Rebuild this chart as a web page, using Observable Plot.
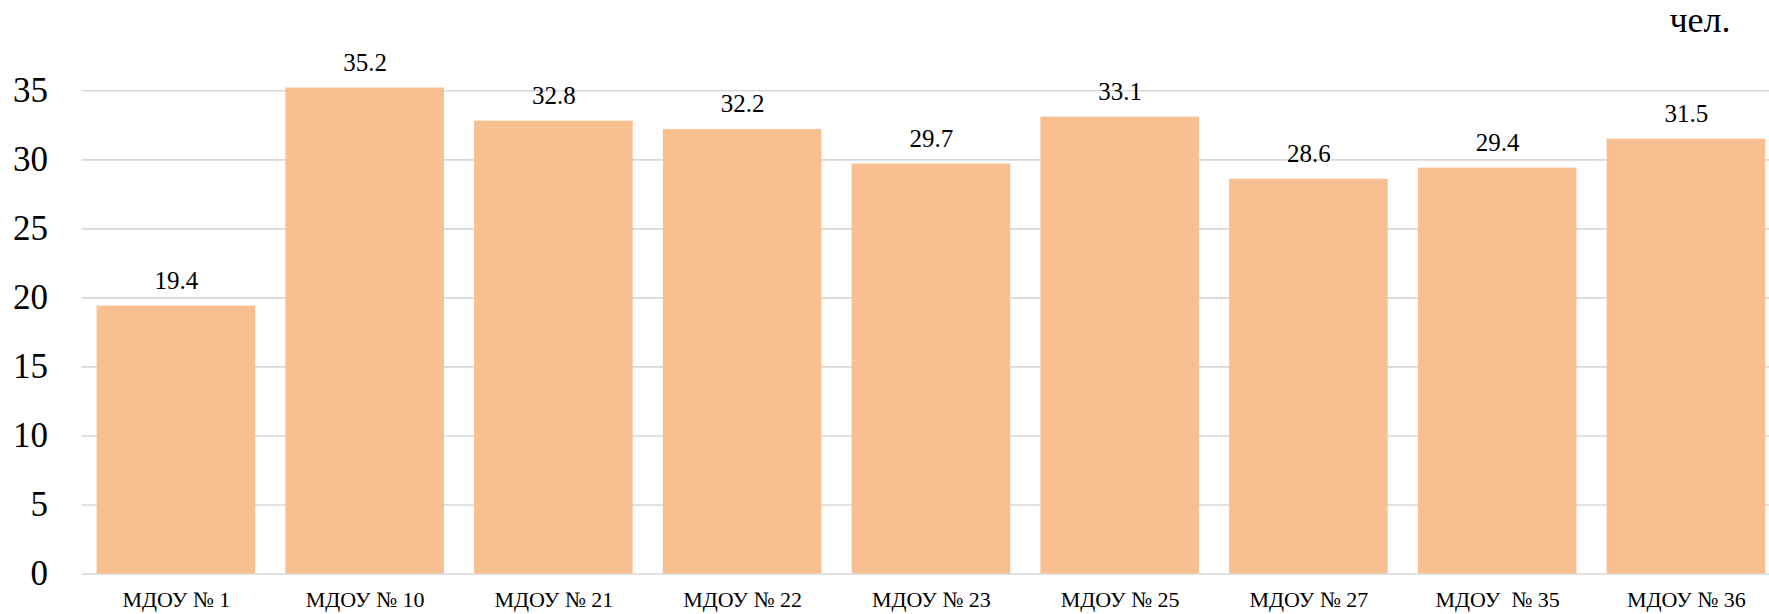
<!DOCTYPE html>
<html>
<head>
<meta charset="utf-8">
<script src="https://cdn.jsdelivr.net/npm/d3@7"></script>
<script src="https://cdn.jsdelivr.net/npm/@observablehq/plot@0.6"></script>
<style>
  html, body { margin: 0; padding: 0; background: #ffffff; }
</style>
</head>
<body>
<div id="chart"></div>
<script>
const categories = ["МДОУ № 1", "МДОУ № 10", "МДОУ № 21", "МДОУ № 22", "МДОУ № 23", "МДОУ № 25", "МДОУ № 27", "МДОУ  № 35", "МДОУ № 36"];
const values = [19.4, 35.2, 32.8, 32.2, 29.7, 33.1, 28.6, 29.4, 31.5];
const yTicks = [0, 5, 10, 15, 20, 25, 30, 35];
const unitLabel = ["чел."];

const data = categories.map((c, i) => ({category: c, value: values[i]}));
const serif = "Liberation Serif";

const chart = Plot.plot({
  width: 1769,
  height: 614,
  marginLeft: 81.5,
  marginRight: 0,
  marginTop: 90.3,
  marginBottom: 40.5,
  style: {
    fontFamily: serif,
    background: "#ffffff",
    color: "#000000",
    overflow: "visible"
  },
  x: {
    domain: categories,
    range: [81.5, 1780.3],
    paddingInner: 0.16,
    paddingOuter: 0.08,
    align: 0.5,
    round: false,
    label: null
  },
  y: {
    domain: [0, 35],
    label: null
  },
  marks: [
    Plot.ruleY(yTicks, {stroke: "#d9d9d9", strokeWidth: 1.6}),
    Plot.barY(data, {x: "category", y: "value", fill: "#f8bf91"}),
    Plot.text(data, {
      x: "category", y: "value", text: d => d.value.toFixed(1),
      fontSize: 25, fontFamily: serif, lineAnchor: "bottom", dy: -17, fill: "#000000"
    }),
    Plot.axisY({
      ticks: yTicks, tickSize: 0, tickPadding: 34, fontSize: 35, fontFamily: serif,
      tickFormat: d => String(d), label: null
    }),
    Plot.axisX({
      tickSize: 0, tickPadding: 17, fontSize: 22, fontFamily: serif, label: null
    }),
    Plot.text(unitLabel, {
      frameAnchor: "top-right", text: d => d, fontSize: 36, fontFamily: serif,
      textAnchor: "start", dx: -100, dy: -59, lineAnchor: "bottom", fill: "#000000"
    })
  ]
});

d3.select(chart).selectAll("text").style("white-space", "pre");

document.getElementById("chart").appendChild(chart);
</script>
</body>
</html>
